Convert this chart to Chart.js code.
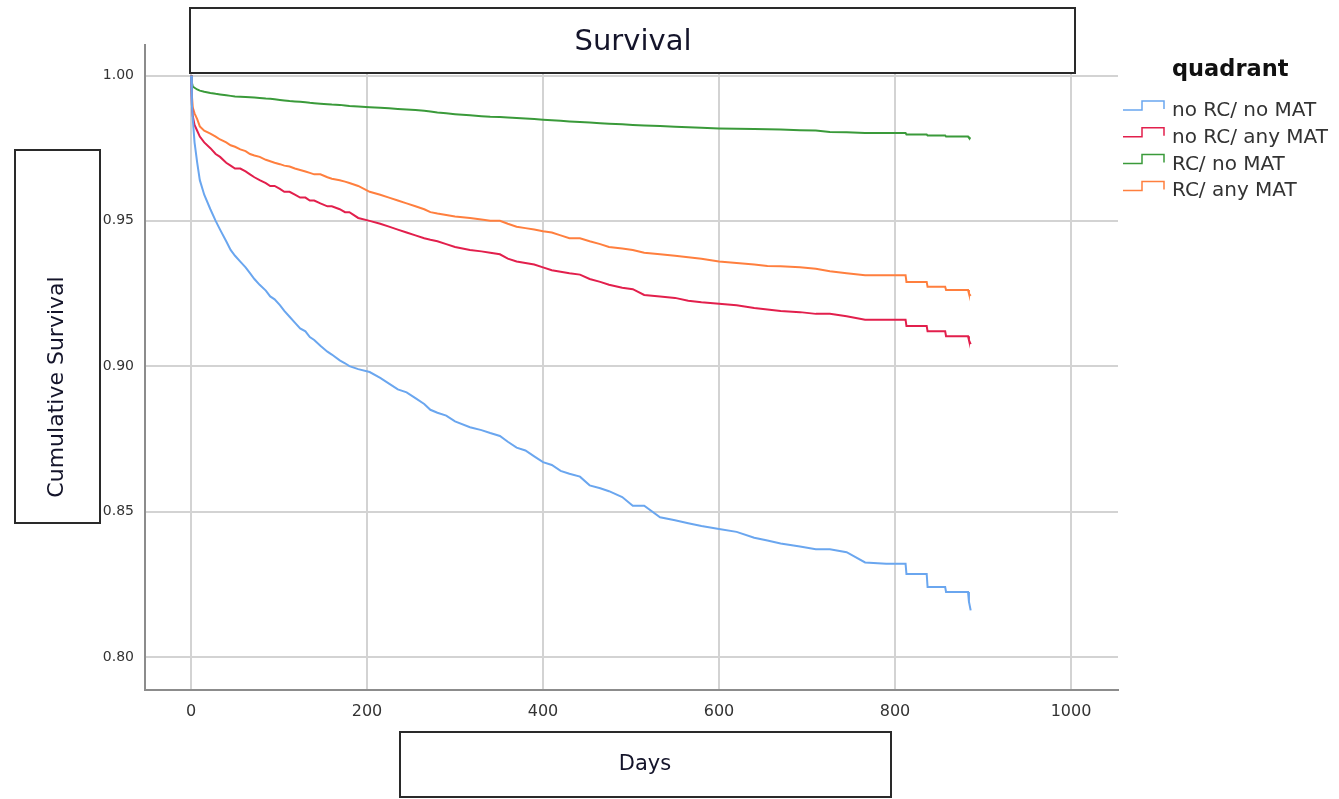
<!DOCTYPE html>
<html>
<head>
<meta charset="utf-8">
<script src="https://cdn.jsdelivr.net/npm/chart.js@4.4.1/dist/chart.umd.min.js"></script>
<style>
  html, body { margin: 0; padding: 0; background: #fff; }
  #wrap { width: 1339px; height: 799px; }
</style>
</head>
<body>
<div id="wrap"><canvas id="survChart" width="1339" height="799"></canvas></div>
<script>
// event times (days), shared by all groups; the late steps are given as pairs
const days = [0, 1, 2, 4, 7, 10, 15, 22, 28, 33, 40, 45, 50, 56, 62, 67, 72, 78, 85, 90, 95, 101, 106, 112, 118, 124, 130, 135, 140, 147, 155, 160, 169, 175, 180, 190, 203, 215, 225, 235, 245, 255, 265, 272, 280, 290, 300, 317, 330, 340, 351, 360, 370, 380, 390, 400, 410, 420, 430, 442, 453, 465, 475, 490, 502, 515, 533, 550, 565, 580, 600, 620, 640, 655, 670, 692, 710, 726, 745, 766, 790, 812, 813, 836, 837, 857, 858, 883, 884, 886];

const noRcNoMat = [1.0, 0.99, 0.985, 0.977, 0.970, 0.964, 0.959, 0.954, 0.950, 0.947, 0.943, 0.940, 0.938, 0.936, 0.934, 0.932, 0.930, 0.928, 0.926, 0.924, 0.923, 0.921, 0.919, 0.917, 0.915, 0.913, 0.912, 0.910, 0.909, 0.907, 0.905, 0.904, 0.902, 0.901, 0.900, 0.899, 0.898, 0.896, 0.894, 0.892, 0.891, 0.889, 0.887, 0.885, 0.884, 0.883, 0.881, 0.879, 0.878, 0.877, 0.876, 0.874, 0.872, 0.871, 0.869, 0.867, 0.866, 0.864, 0.863, 0.862, 0.859, 0.858, 0.857, 0.855, 0.852, 0.852, 0.848, 0.847, 0.846, 0.845, 0.844, 0.843, 0.841, 0.840, 0.839, 0.838, 0.837, 0.837, 0.836, 0.8325, 0.832, 0.832, 0.8285, 0.8285, 0.824, 0.824, 0.8223, 0.8223, 0.819, 0.816];

const noRcAnyMat = [1.0, 0.99, 0.986, 0.983, 0.981, 0.979, 0.977, 0.975, 0.973, 0.972, 0.970, 0.969, 0.968, 0.968, 0.967, 0.966, 0.965, 0.964, 0.963, 0.962, 0.962, 0.961, 0.960, 0.960, 0.959, 0.958, 0.958, 0.957, 0.957, 0.956, 0.955, 0.955, 0.954, 0.953, 0.953, 0.951, 0.950, 0.949, 0.948, 0.947, 0.946, 0.945, 0.944, 0.9435, 0.943, 0.942, 0.941, 0.940, 0.9395, 0.939, 0.9385, 0.937, 0.936, 0.9355, 0.935, 0.934, 0.933, 0.9325, 0.932, 0.9315, 0.930, 0.929, 0.928, 0.927, 0.9265, 0.9245, 0.924, 0.9235, 0.9225, 0.922, 0.9215, 0.921, 0.920, 0.9195, 0.919, 0.9186, 0.918, 0.918, 0.9172, 0.916, 0.916, 0.916, 0.9138, 0.9138, 0.912, 0.912, 0.9103, 0.9103, 0.909, 0.9076];

const rcNoMat = [1.0, 0.9975, 0.9962, 0.9958, 0.9952, 0.9948, 0.9944, 0.994, 0.9937, 0.9935, 0.9932, 0.993, 0.9928, 0.9927, 0.9926, 0.9925, 0.9924, 0.9923, 0.9921, 0.992, 0.9918, 0.9916, 0.9914, 0.9912, 0.9911, 0.991, 0.9908, 0.9906, 0.9905, 0.9903, 0.9901, 0.99, 0.9899, 0.9897, 0.9895, 0.9893, 0.9891, 0.9889, 0.9887, 0.9885, 0.9883, 0.9881, 0.9879, 0.9876, 0.9873, 0.987, 0.9867, 0.9863, 0.986, 0.9858, 0.9857, 0.9856, 0.9854, 0.9852, 0.985, 0.9848, 0.9846, 0.9844, 0.9842, 0.984, 0.9838, 0.9836, 0.9834, 0.9832, 0.983, 0.9828, 0.9826, 0.9824, 0.9822, 0.982, 0.9818, 0.9817, 0.9816, 0.9815, 0.9814, 0.9812, 0.9811, 0.9806, 0.9805, 0.9802, 0.9802, 0.9802, 0.9797, 0.9797, 0.9794, 0.9794, 0.979, 0.979, 0.9786, 0.9783];

const rcAnyMat = [1.0, 0.993, 0.989, 0.987, 0.985, 0.9825, 0.981, 0.980, 0.979, 0.978, 0.977, 0.976, 0.9755, 0.9746, 0.974, 0.973, 0.9725, 0.972, 0.971, 0.9705, 0.970, 0.9695, 0.969, 0.9687, 0.968, 0.9675, 0.967, 0.9665, 0.966, 0.966, 0.965, 0.9645, 0.964, 0.9635, 0.963, 0.962, 0.960, 0.959, 0.958, 0.957, 0.956, 0.955, 0.954, 0.953, 0.9525, 0.952, 0.9515, 0.951, 0.9505, 0.950, 0.950, 0.949, 0.948, 0.9475, 0.947, 0.9464, 0.946, 0.945, 0.944, 0.944, 0.943, 0.942, 0.941, 0.9405, 0.940, 0.939, 0.9385, 0.938, 0.9375, 0.937, 0.936, 0.9355, 0.935, 0.9345, 0.9344, 0.934, 0.9335, 0.9327, 0.932, 0.9313, 0.9313, 0.9313, 0.929, 0.929, 0.9273, 0.9273, 0.9262, 0.9262, 0.925, 0.9242];

const groupNames = ['no RC/ no MAT', 'no RC/ any MAT', 'RC/ no MAT', 'RC/ any MAT'];
const groupColors = ['#6aa6ef', '#e21f4c', '#3a9a3a', '#ff7f3e'];
const xTicks = [0, 200, 400, 600, 800, 1000];
const yTicks = [0.80, 0.85, 0.90, 0.95, 1.00];

const seriesValues = [noRcNoMat, noRcAnyMat, rcNoMat, rcAnyMat];

function toPoints(vals) {
    return days.map((d, i) => ({ x: d, y: vals[i] }));
}

// boxes round the titles + step legend
const boxesPlugin = {
    id: 'boxes',
    afterDraw(chart) {
        const ctx = chart.ctx;
        ctx.save();
        ctx.strokeStyle = '#2a2a2a';
        ctx.lineWidth = 2;

        // title box
        ctx.fillStyle = '#fff';
        ctx.fillRect(190, 8, 885, 65);
        ctx.strokeRect(190, 8, 885, 65);
        // y title box
        ctx.strokeRect(15, 150, 85, 373);
        // x title box
        ctx.strokeRect(400, 732, 491, 65);

        ctx.fillStyle = '#14142a';
        ctx.textAlign = 'center';
        ctx.textBaseline = 'middle';
        ctx.font = '29px "DejaVu Sans"';
        ctx.fillText('Survival', 633, 42);
        ctx.font = '21px "DejaVu Sans"';
        ctx.fillText('Days', 645, 765);
        ctx.save();
        ctx.translate(57, 387);
        ctx.rotate(-Math.PI / 2);
        ctx.font = '22px "DejaVu Sans"';
        ctx.fillText('Cumulative Survival', 0, 0);
        ctx.restore();

        // legend
        ctx.textAlign = 'left';
        ctx.textBaseline = 'alphabetic';
        ctx.fillStyle = '#111';
        ctx.font = 'bold 22.5px "DejaVu Sans"';
        ctx.fillText('quadrant', 1172, 76);
        ctx.font = '20px "DejaVu Sans"';
        groupNames.forEach((name, i) => {
            const yb = 110 + i * 26.8;
            ctx.strokeStyle = groupColors[i];
            ctx.lineWidth = 1.5;
            ctx.beginPath();
            ctx.moveTo(1123, yb);
            ctx.lineTo(1142, yb);
            ctx.lineTo(1142, yb - 9);
            ctx.lineTo(1164, yb - 9);
            ctx.lineTo(1164, yb - 1);
            ctx.stroke();
            ctx.fillStyle = '#333';
            ctx.fillText(name, 1172, yb + 6);
        });
        ctx.restore();
    }
};

const ctx = document.getElementById('survChart').getContext('2d');
new Chart(ctx, {
    type: 'line',
    data: {
        datasets: groupNames.map((name, i) => ({
            label: name,
            data: toPoints(seriesValues[i]),
            borderColor: groupColors[i],
            borderWidth: 2,
            pointRadius: 0,
            tension: 0,
            fill: false
        }))
    },
    options: {
        responsive: false,
        animation: false,
        devicePixelRatio: 1,
        layout: { padding: { top: 45, right: 221, left: 0, bottom: 0 } },
        plugins: {
            legend: { display: false },
            tooltip: { enabled: false }
        },
        scales: {
            x: {
                type: 'linear',
                min: -52.3,
                max: 1053.4,
                afterBuildTicks: (s) => { s.ticks = xTicks.map(v => ({ value: v })); },
                afterFit: (s) => { s.height = 109; },
                grid: { color: '#d3d3d3', lineWidth: 2, drawTicks: false },
                border: { display: true, color: '#8c8c8c', width: 2 },
                ticks: {
                    padding: 12,
                    color: '#333',
                    font: { family: 'DejaVu Sans', size: 16 },
                    maxRotation: 0,
                    callback: (v) => String(v)
                }
            },
            y: {
                type: 'linear',
                min: 0.7886,
                max: 1.0105,
                afterBuildTicks: (s) => { s.ticks = yTicks.map(v => ({ value: v })); },
                afterFit: (s) => { s.width = 145; },
                grid: { color: '#d3d3d3', lineWidth: 2, drawTicks: false },
                border: { display: true, color: '#8c8c8c', width: 2 },
                ticks: {
                    padding: 11,
                    color: '#333',
                    font: { family: 'DejaVu Sans', size: 14 },
                    callback: (v) => v.toFixed(2)
                }
            }
        }
    },
    plugins: [boxesPlugin]
});
</script>
</body>
</html>
